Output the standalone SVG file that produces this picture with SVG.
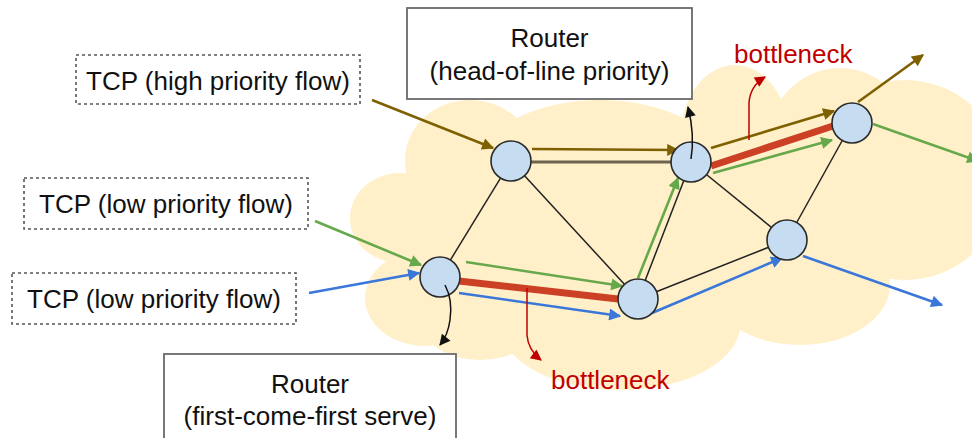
<svg xmlns="http://www.w3.org/2000/svg" width="972" height="438" viewBox="0 0 972 438">
<defs>
<style>
.cloud{fill:#fff0c9;stroke:none}
.lbl{font-family:"Liberation Sans",Arial,sans-serif;font-size:26px;fill:#111;text-anchor:middle}
.red{fill:#c00000;text-anchor:start}
.dash{fill:#fff;stroke:#555;stroke-width:1.6;stroke-dasharray:3 3}
.rbox{fill:#fff;stroke:#6a6a6a;stroke-width:1.8}
.node{fill:#c6dcf1;stroke:#2a2a2a;stroke-width:1.6}
.link{stroke:#222;stroke-width:1.5;fill:none}
.brown{stroke:#7f6000;stroke-width:2.6;fill:none}
.green{stroke:#66a84a;stroke-width:2.6;fill:none}
.blue{stroke:#3a77d9;stroke-width:2.6;fill:none}
.thick{stroke:#cc4125;stroke-width:7;fill:none}
.thinred{stroke:#c00000;stroke-width:1.5;fill:none}
.thinblk{stroke:#111;stroke-width:1.5;fill:none}
</style>
<marker id="mBrown" viewBox="0 0 10 10" refX="9" refY="5" markerWidth="15" markerHeight="12" markerUnits="userSpaceOnUse" orient="auto"><path d="M0,0 L10,5 L0,10 Z" fill="#7f6000"/></marker>
<marker id="mGreen" viewBox="0 0 10 10" refX="9" refY="5" markerWidth="15" markerHeight="12" markerUnits="userSpaceOnUse" orient="auto"><path d="M0,0 L10,5 L0,10 Z" fill="#66a84a"/></marker>
<marker id="mBlue" viewBox="0 0 10 10" refX="9" refY="5" markerWidth="15" markerHeight="12" markerUnits="userSpaceOnUse" orient="auto"><path d="M0,0 L10,5 L0,10 Z" fill="#3a77d9"/></marker>
<marker id="mRed" viewBox="0 0 10 10" refX="9" refY="5" markerWidth="13" markerHeight="11" markerUnits="userSpaceOnUse" orient="auto"><path d="M0,0 L10,5 L0,10 Z" fill="#c00000"/></marker>
<marker id="mBlack" viewBox="0 0 10 10" refX="9" refY="5" markerWidth="13" markerHeight="11" markerUnits="userSpaceOnUse" orient="auto"><path d="M0,0 L10,5 L0,10 Z" fill="#111"/></marker>
</defs>
<rect width="972" height="438" fill="#fff"/>
<g id="cloud">
<ellipse class="cloud" cx="400" cy="218" rx="50" ry="45"/>
<ellipse class="cloud" cx="425" cy="298" rx="60" ry="48"/>
<ellipse class="cloud" cx="470" cy="160" rx="65" ry="60"/>
<ellipse class="cloud" cx="600" cy="165" rx="120" ry="65"/>
<ellipse class="cloud" cx="735" cy="140" rx="55" ry="75"/>
<ellipse class="cloud" cx="840" cy="150" rx="75" ry="82"/>
<ellipse class="cloud" cx="905" cy="180" rx="100" ry="100"/>
<ellipse class="cloud" cx="800" cy="285" rx="90" ry="60"/>
<ellipse class="cloud" cx="620" cy="325" rx="120" ry="65"/>
<ellipse class="cloud" cx="480" cy="320" rx="60" ry="40"/>
<ellipse class="cloud" cx="640" cy="230" rx="230" ry="110"/>
</g>
<g id="router-hol"><rect class="rbox" x="407" y="8" width="285" height="91"/><text class="lbl" x="549.5" y="47">Router</text><text class="lbl" x="549.5" y="80">(head-of-line priority)</text></g>
<g id="router-fcfs"><rect class="rbox" x="164" y="354" width="292" height="100"/><text class="lbl" x="310" y="393">Router</text><text class="lbl" x="310" y="425">(first-come-first serve)</text></g>
<g id="tcp-high"><rect class="dash" x="76" y="55" width="284" height="49"/><text class="lbl" x="218" y="90">TCP (high priority flow)</text></g>
<g id="tcp-low1"><rect class="dash" x="24" y="178" width="284" height="51"/><text class="lbl" x="166" y="213">TCP (low priority flow)</text></g>
<g id="tcp-low2"><rect class="dash" x="12" y="273" width="284" height="51"/><text class="lbl" x="154" y="308">TCP (low priority flow)</text></g>
<g id="connectors">
<line class="link" x1="440" y1="277" x2="511" y2="161"/>
<line stroke="#6e6450" stroke-width="3" x1="511" y1="162" x2="691" y2="162"/>
<line class="link" x1="511" y1="161" x2="638" y2="299"/>
<line class="link" x1="691" y1="162" x2="638" y2="299"/>
<line class="link" x1="691" y1="162" x2="787" y2="240"/>
<line class="link" x1="852" y1="123" x2="787" y2="240"/>
<line class="link" x1="638" y1="299" x2="787" y2="240"/>
<line class="thick" x1="459" y1="281" x2="618" y2="299"/>
<line class="thick" x1="711" y1="166" x2="833" y2="126"/>
<line class="brown" x1="372" y1="100" x2="493" y2="148" marker-end="url(#mBrown)"/>
<line class="brown" x1="532" y1="149" x2="678" y2="150" marker-end="url(#mBrown)"/>
<line class="brown" x1="711" y1="148" x2="834" y2="111" marker-end="url(#mBrown)"/>
<line class="brown" x1="858" y1="102" x2="923" y2="55" marker-end="url(#mBrown)"/>
<line class="green" x1="315" y1="221" x2="421" y2="265" marker-end="url(#mGreen)"/>
<line class="green" x1="466" y1="262" x2="622" y2="286" marker-end="url(#mGreen)"/>
<line class="green" x1="638" y1="278" x2="678" y2="178" marker-end="url(#mGreen)"/>
<line class="green" x1="713" y1="173" x2="832" y2="140" marker-end="url(#mGreen)"/>
<line class="green" x1="873" y1="124" x2="978" y2="161" marker-end="url(#mGreen)"/>
<line class="blue" x1="309" y1="293" x2="419" y2="273" marker-end="url(#mBlue)"/>
<line class="blue" x1="459" y1="293" x2="620" y2="316" marker-end="url(#mBlue)"/>
<line class="blue" x1="652" y1="313" x2="782" y2="258" marker-end="url(#mBlue)"/>
<line class="blue" x1="803" y1="256" x2="942" y2="305" marker-end="url(#mBlue)"/>
<path class="thinred" d="M527,288 L527,335 Q528,350 541,360" marker-end="url(#mRed)"/>
<path class="thinred" d="M749,140 L749,103 Q750,86 765,77" marker-end="url(#mRed)"/>
</g>
<g id="node-a"><circle class="node" cx="440" cy="277" r="20"/></g>
<g id="node-b"><circle class="node" cx="511" cy="161" r="20"/></g>
<g id="node-c"><circle class="node" cx="691" cy="162" r="20"/></g>
<g id="node-d"><circle class="node" cx="852" cy="123" r="20"/></g>
<g id="node-e"><circle class="node" cx="787" cy="240" r="20"/></g>
<g id="node-f"><circle class="node" cx="638" cy="299" r="20"/></g>
<g id="pointers">
<path class="thinblk" d="M445,285 Q453,300 450,320 Q448,335 440,345" marker-end="url(#mBlack)"/>
<path class="thinblk" d="M691,159 Q695,135 688,107" marker-end="url(#mBlack)"/>
</g>
<text class="lbl red" x="734" y="63">bottleneck</text>
<text class="lbl red" x="551" y="389">bottleneck</text>
</svg>
